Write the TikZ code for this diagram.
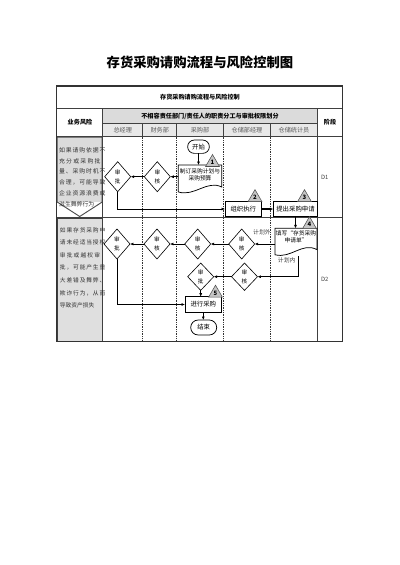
\documentclass[tikz,border=0pt]{standalone}
\usepackage{fontspec}
\setmainfont{Noto Sans CJK SC}
\usetikzlibrary{shapes.geometric,arrows.meta,calc}
\newcommand\myfs[2]{\fontsize{#1}{#2}\selectfont}
\newcommand\sprA[1]{\makebox[31pt][s]{#1}}
\newcommand\sprB[1]{\makebox[30pt][s]{#1}}
\begin{document}
\begin{tikzpicture}[x=0.75pt,y=-0.75pt,
  every node/.style={inner sep=0pt,outer sep=0pt},
  dia/.style={diamond,draw,line width=0.45pt,minimum width=19.5pt,minimum height=22.5pt,align=center,font=\myfs{4.2}{6.3}},
  procbox/.style={rectangle,draw,line width=0.55pt,minimum height=11.75pt,font=\myfs{4.8}{5.5}},
  term/.style={rectangle,draw,rounded corners=5pt,line width=0.55pt,font=\myfs{4.8}{5.5}},
  docn/.style={rectangle,align=center,font=\myfs{4.3}{5.2}},
  docline/.style={line width=0.55pt},
  tri/.style={regular polygon,regular polygon sides=3,draw=black!70,fill=gray!45,line width=0.4pt,minimum size=12pt,inner sep=0pt,font=\bfseries\myfs{4.5}{5},anchor=south},
  arr/.style={-{Latex[length=2.6pt,width=2.2pt]},line width=0.45pt},
  plain/.style={line width=0.45pt},
  grid/.style={line width=0.6pt,draw=black!75},
  dotcol/.style={line width=0.5pt,draw=black!80,dash pattern=on 0.6pt off 0.7pt},
  hdr/.style={font=\bfseries\myfs{4.6}{5.5}},
  dept/.style={font=\myfs{4.6}{5.5},text=black!65},
  lbl/.style={font=\myfs{4.4}{5},text=black!75},
  risk/.style={align=left},
]
\useasboundingbox (0,0) rectangle (400,565);

% title
\node[font=\bfseries\myfs{10}{12}] (title) at (200,62) {存货采购请购流程与风险控制图};

% table backgrounds
\fill[gray!28] (102.7,108.3) rectangle (317.3,123.3);
\fill[gray!18] (102.7,123.3) rectangle (317.3,136.7);

% risk boxes
\fill[gray!28] (57.2,137.2) rectangle (102.2,202);
\draw[line width=0.7pt,draw=black!70] (57.2,137.2) -- (102.2,137.2) -- (102.2,202) -- (79.7,216.5) -- (57.2,202) -- cycle;
\draw[line width=0.9pt,draw=black!75,fill=gray!25] (57.6,218) rectangle (102.2,341.2);

% table lines
\draw[grid] (56.7,108.3) -- (342.7,108.3);
\draw[grid] (102.7,123.3) -- (317.3,123.3);
\draw[grid] (56.7,136.7) -- (342.7,136.7);
\draw[grid] (56.7,217.3) -- (342.7,217.3);
\draw[grid] (102.7,108.3) -- (102.7,341.7);
\draw[grid] (317.3,108.3) -- (317.3,341.7);
\foreach \cx in {142.7,176.7,223.3,270.7}{
  \draw[grid] (\cx,123.3) -- (\cx,136.7);
  \draw[dotcol] (\cx,136.7) -- (\cx,341.7);
}
\draw[line width=0.9pt,draw=black!80] (56.7,86) rectangle (342.7,341.7);

% header texts
\node[hdr] (h0) at (200,97.3) {存货采购请购流程与风险控制};
\node[hdr] (h1) at (80,122.3) {业务风险};
\node[hdr] (h2) at (210,116) {不相容责任部门/责任人的职责分工与审批权限划分};
\node[hdr] (h3) at (330,122.3) {阶段};
\node[dept] (c1) at (122.7,130.2) {总经理};
\node[dept] (c2) at (159.7,130.2) {财务部};
\node[dept] (c3) at (200,130.2) {采购部};
\node[dept] (c4) at (247,130.2) {仓储部经理};
\node[dept] (c5) at (294,130.2) {仓储统计员};

% risk texts
\node[risk,font=\myfs{4.4}{8.1},text=black!80] (r1) at (79.8,177) {\sprA{如 果 请 购 依 据 不}\\\sprA{充 分 或 采 购 批}\\\sprA{量 、 采 购 时 机 不}\\\sprA{合 理 ， 可 能 导 致}\\\sprA{企 业 资 源 浪 费 或}\\滋生舞弊行为};
\node[risk,font=\myfs{4.3}{9.4},text=black!80] (r2) at (80,267.8) {\sprB{如 果 存 货 采 购 申}\\\sprB{请 未 经 适 当 授 权}\\\sprB{审 批 或 越 权 审}\\\sprB{批 ， 可 能 产 生 重}\\\sprB{大 差 错 及 舞 弊 、}\\\sprB{欺 诈 行 为 ， 从 而}\\导致资产损失};

% stage labels
\node[lbl,anchor=west] (s1) at (321,177.5) {D1};
\node[lbl,anchor=west] (s2) at (321,279.3) {D2};

% ---------- D1 flow ----------
\node[term,minimum width=16.3pt,minimum height=10pt] (start) at (198.5,146.7) {开始};
\node[docn,minimum width=32.5pt,minimum height=15pt] (doc1) at (200,175) {制订采购计划与\\采购预算};
\draw[docline] (doc1.north west) -- (doc1.north east) -- ([yshift=-1.5pt]doc1.south east)
  .. controls ([xshift=-11pt,yshift=4pt]doc1.south east) and ([xshift=12pt,yshift=-9pt]doc1.south west) ..
  ([yshift=-5.2pt]doc1.south west) -- cycle;
\node[tri] (t1) at (212.5,166.5) {1};

\node[dia] (d1a) at (157.3,176.7) {审\\核};
\node[dia] (d1g) at (117.7,176.7) {审\\批};

\node[procbox,minimum width=27.5pt] (org) at (243.3,209) {组织执行};
\node[tri] (t2) at (255,201.6) {2};
\node[procbox,minimum width=33.3pt] (req) at (295.5,209) {提出采购申请};
\node[tri] (t3) at (304.5,201.6) {3};

\draw[arr] (start.south) -- (start.south |- doc1.north);
\draw[arr] (doc1.west |- d1a) -- (d1a.east);
\draw[arr] (d1a.west) -- (d1g.east);
\draw[arr] (d1g.south) |- (org.west);
\draw[arr,line width=0.8pt] (org.east) -- (req.west);

% ---------- D2 flow ----------
\node[docn,minimum width=31.5pt,minimum height=13pt] (doc2) at (296,237) {填写“存货采购\\申请单”};
\draw[docline] (doc2.north west) -- (doc2.north east) -- ([yshift=-3pt]doc2.south east)
  .. controls ([xshift=-11pt,yshift=3pt]doc2.south east) and ([xshift=12pt,yshift=-10pt]doc2.south west) ..
  ([yshift=-6.8pt]doc2.south west) -- cycle;
\node[tri] (t4) at (309.5,228.6) {4};
\draw[arr] (req.south) -- (req.south |- doc2.north);

\node[dia] (d2w) at (241.7,244) {审\\核};
\node[dia] (d2p) at (197.7,244) {审\\核};
\node[dia] (d2f) at (157,244) {审\\核};
\node[dia] (d2g) at (117,244) {审\\批};
\node[dia,minimum height=20.5pt] (d2w2) at (244.5,276.7) {审\\核};
\node[dia,minimum height=20.5pt] (d2pa) at (200.7,276.7) {审\\批};

\node[procbox,minimum width=27.5pt] (buy) at (203.3,304.5) {进行采购};
\node[tri] (t5) at (215.5,297.2) {5};
\node[term,minimum width=19.5pt,minimum height=11.25pt,rounded corners=5.6pt] (end) at (203.7,327.5) {结束};

\node[lbl] (l1) at (262,232.5) {计划外};
\node[lbl] (l2) at (286.7,260.5) {计划内};
\coordinate (pin) at (298.3,256.3);

\draw[arr] (doc2.west |- d2w) -- (d2w.east);
\draw[arr] (d2w.west) -- (d2p.east);
\draw[arr] (d2p.west) -- (d2f.east);
\draw[arr] (d2f.west) -- (d2g.east);
\draw[arr] (pin) |- (d2w2.east);
\draw[arr] (d2w2.west) -- (d2pa.east);
\draw[arr] (d2pa.south) -- (d2pa.south |- buy.north);
\draw[arr] (d2g.south) |- (buy.west);
\draw[arr] (buy.south) -- (buy.south |- end.north);
\end{tikzpicture}
\end{document}
